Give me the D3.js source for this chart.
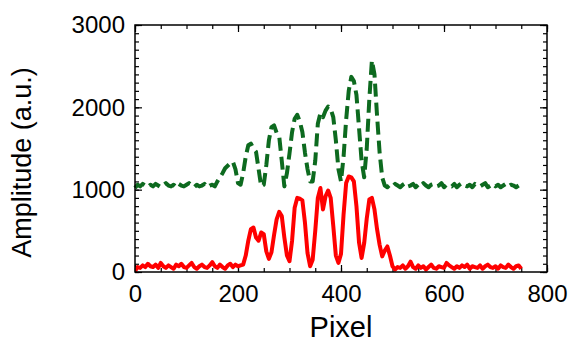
<!DOCTYPE html>
<html>
<head>
<meta charset="utf-8">
<script src="https://cdn.jsdelivr.net/npm/d3@7"></script>
<style>
  body { margin: 0; background: #fff; }
  svg { font-family: "Liberation Sans", Arial, Helvetica, sans-serif; }
</style>
</head>
<body>
<figure id="chart" style="margin:0"></figure>
<script>
// pixel positions (x), step 5
const pixels = [
  0,5,10,15,20,25,30,35,40,45,50,55,60,65,70,75,80,85,90,95,
  100,105,110,115,120,125,130,135,140,145,150,155,160,165,170,175,180,185,190,195,
  200,205,210,215,220,225,230,235,240,245,250,255,260,265,270,275,280,285,290,295,
  300,305,310,315,320,325,330,335,340,345,350,355,360,365,370,375,380,385,390,395,
  400,405,410,415,420,425,430,435,440,445,450,455,460,465,470,475,480,485,490,495,
  500,505,510,515,520,525,530,535,540,545,550,555,560,565,570,575,580,585,590,595,
  600,605,610,615,620,625,630,635,640,645,650,655,660,665,670,675,680,685,690,695,
  700,705,710,715,720,725,730,735,740,745,750
];

// red solid series
const redValues = [
  10,60,50,80,60,100,70,60,90,50,110,70,50,80,60,40,90,70,100,60,
  50,80,110,60,40,70,90,60,50,80,120,70,50,90,60,40,80,100,60,90,
  70,80,90,200,380,520,540,420,380,480,460,250,160,240,450,640,730,680,420,200,
  130,380,780,900,890,870,600,230,70,150,500,900,1020,760,920,990,900,560,200,110,
  220,700,1080,1160,1150,1100,800,360,170,350,650,880,900,760,520,330,190,260,310,200,
  70,30,60,50,80,40,70,125,60,40,80,50,70,30,60,90,50,40,70,60,
  50,110,80,60,40,70,50,80,60,90,40,70,60,50,80,40,70,90,60,50,
  70,40,80,60,50,90,60,40,70,80,40
];

// green dashed series
const greenValues = [
  1020,1060,1040,1070,1050,1030,1060,1040,1070,1050,1030,1060,1080,1050,1040,1060,1030,1070,1050,1040,
  1060,1080,1050,1030,1060,1040,1050,1070,1030,1050,1060,1040,1100,1150,1200,1260,1290,1320,1340,1250,
  1080,1060,1200,1400,1540,1560,1500,1460,1250,1040,1060,1300,1600,1760,1780,1690,1650,1350,1040,1200,
  1440,1700,1860,1910,1830,1700,1450,1250,1100,1100,1350,1800,1930,1880,1960,2010,1980,1880,1600,1250,
  1100,1400,1850,2200,2370,2320,2150,1750,1350,1150,1500,2100,2570,2400,1900,1450,1150,1050,1030,1060,
  1040,1070,1050,1030,1060,1080,1040,1050,1070,1030,1060,1040,1080,1050,1030,1060,1070,1040,1050,1080,
  1030,1060,1050,1040,1070,1030,1060,1080,1050,1040,1060,1030,1070,1050,1040,1060,1080,1030,1050,1070,
  1040,1060,1030,1050,1070,1040,1060,1050,1030,1050
];

const xTicks = [0, 200, 400, 600, 800];
const yTicks = [0, 1000, 2000, 3000];

const W = 571, H = 343;
const margin = { top: 25, right: 24, bottom: 71, left: 135 };
const width = W - margin.left - margin.right;
const height = H - margin.top - margin.bottom;

const svg = d3.select("figure#chart")
  .append("svg")
  .attr("width", W)
  .attr("height", H)
  .append("g")
  .attr("transform", "translate(" + margin.left + "," + margin.top + ")");

const x = d3.scaleLinear().domain([0, 800]).range([0, width]);
const y = d3.scaleLinear().domain([0, 3000]).range([height, 0]);

// axes with inward ticks on all sides
const xMinor = d3.range(0, 801, 50);
const yMinor = d3.range(0, 3001, 100);

function styleAxis(g) {
  g.select(".domain").remove();
  g.selectAll("line").attr("stroke", "#000").attr("stroke-width", 1.2);
}

// bottom
svg.append("g").attr("transform", "translate(0," + height + ")")
  .call(d3.axisBottom(x).tickValues(xMinor).tickSize(-4).tickFormat(""))
  .call(styleAxis);
svg.append("g").attr("transform", "translate(0," + height + ")")
  .call(d3.axisBottom(x).tickValues(xTicks).tickSize(-7).tickPadding(13).tickFormat(d3.format("d")))
  .call(styleAxis)
  .selectAll("text").style("font-size", "24px").attr("fill", "#000");
// top
svg.append("g")
  .call(d3.axisTop(x).tickValues(xMinor).tickSize(-4).tickFormat(""))
  .call(styleAxis);
svg.append("g")
  .call(d3.axisTop(x).tickValues(xTicks).tickSize(-7).tickFormat(""))
  .call(styleAxis);
// left
svg.append("g")
  .call(d3.axisLeft(y).tickValues(yMinor).tickSize(-4).tickFormat(""))
  .call(styleAxis);
svg.append("g")
  .call(d3.axisLeft(y).tickValues(yTicks).tickSize(-7).tickPadding(10).tickFormat(d3.format("d")))
  .call(styleAxis)
  .selectAll("text").style("font-size", "24px").attr("fill", "#000");
// right
svg.append("g").attr("transform", "translate(" + width + ",0)")
  .call(d3.axisRight(y).tickValues(yMinor).tickSize(-4).tickFormat(""))
  .call(styleAxis);
svg.append("g").attr("transform", "translate(" + width + ",0)")
  .call(d3.axisRight(y).tickValues(yTicks).tickSize(-7).tickFormat(""))
  .call(styleAxis);

// series
const line = d3.line()
  .x((d) => x(d[0]))
  .y((d) => y(d[1]));

svg.append("clipPath").attr("id", "plotclip")
  .append("rect").attr("x", 0).attr("y", -2).attr("width", width).attr("height", height + 2);

svg.append("path")
  .datum(pixels.slice(0, greenValues.length).map((p, i) => [p, greenValues[i]]))
  .attr("d", line)
  .attr("fill", "none")
  .attr("stroke", "#0d6a1f")
  .attr("stroke-width", 4)
  .attr("stroke-dasharray", "13,6")
  .attr("stroke-linejoin", "round");

svg.append("path")
  .datum(pixels.map((p, i) => [p, redValues[i]]))
  .attr("d", line)
  .attr("clip-path", "url(#plotclip)")
  .attr("fill", "none")
  .attr("stroke", "#ff0000")
  .attr("stroke-width", 4)
  .attr("stroke-linejoin", "round");

// frame
svg.append("rect")
  .attr("width", width).attr("height", height)
  .attr("fill", "none").attr("stroke", "#000").attr("stroke-width", 1.5);

// axis titles
svg.append("text")
  .attr("x", width / 2).attr("y", height + 65)
  .attr("text-anchor", "middle")
  .style("font-size", "29px")
  .text("Pixel");

svg.append("text")
  .attr("transform", "rotate(-90)")
  .attr("x", -(height / 2 + 14)).attr("y", -104)
  .attr("text-anchor", "middle")
  .style("font-size", "27px")
  .text("Amplitude (a.u.)");
</script>
</body>
</html>
